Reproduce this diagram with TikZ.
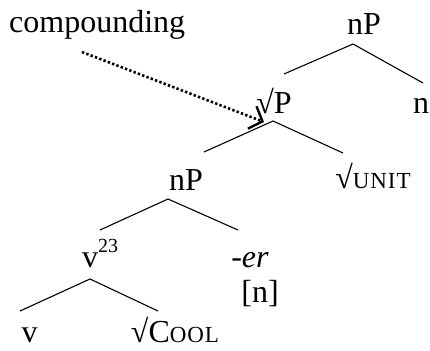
\documentclass[tikz,border=0pt]{standalone}
\usepackage{fontspec}
\setmainfont{Liberation Serif}
\usetikzlibrary{arrows.meta}
\newcommand\fakesc[1]{{\fontsize{23}{23}\selectfont\addfontfeature{LetterSpace=4}#1}}
\tikzset{
  lbl/.style={inner sep=0pt, anchor=base, font=\fontsize{32}{38}\selectfont},
  branch/.style={line width=1.1pt},
  movearrow/.style={line width=2.6pt, dash pattern=on 2.4pt off 2.2pt, -{Straight Barb[length=11pt,width=24pt,line width=2.4pt]}}
}
\begin{document}
\begin{tikzpicture}[x=1pt,y=-1pt]
\useasboundingbox (0,0) rectangle (430,350);
% labels
\node[lbl, anchor=base west] (comp) at (9,33) {compounding};
\node[lbl] (nPa) at (364,35) {nP};
\node[lbl] (rP) at (274,113) {√P};
\node[lbl] (n) at (421,113) {n};
\node[lbl] (nPb) at (186,190) {nP};
\node[lbl] (unit) at (373,188) {√\fakesc{UNIT}};
\node[lbl, anchor=base west] (v23) at (82,267) {v\raisebox{15pt}{\fontsize{20}{20}\selectfont 23}};
\node[lbl] (er) at (250,267) {\textit{-er}};
\node[lbl] (brn) at (260,302) {[n]};
\node[lbl] (v) at (29.5,342) {v};
\node[lbl] (cool) at (175,342) {√C\fakesc{OOL}};
% branch points
\coordinate (a1) at (353,44); \coordinate (a1l) at (284,74); \coordinate (a1r) at (423,83);
\coordinate (a2) at (273,121); \coordinate (a2l) at (204,152); \coordinate (a2r) at (343,153);
\coordinate (a3) at (168,199); \coordinate (a3l) at (100,230); \coordinate (a3r) at (238,230);
\coordinate (a4) at (90,279); \coordinate (a4l) at (20,311); \coordinate (a4r) at (158,311);
\draw[branch] (a1l) -- (a1) -- (a1r);
\draw[branch] (a2l) -- (a2) -- (a2r);
\draw[branch] (a3l) -- (a3) -- (a3r);
\draw[branch] (a4l) -- (a4) -- (a4r);
% movement arrow
\coordinate (arrs) at (82,52);
\coordinate (arre) at (264,122);
\draw[movearrow] (arrs) -- (arre);
\end{tikzpicture}
\end{document}
